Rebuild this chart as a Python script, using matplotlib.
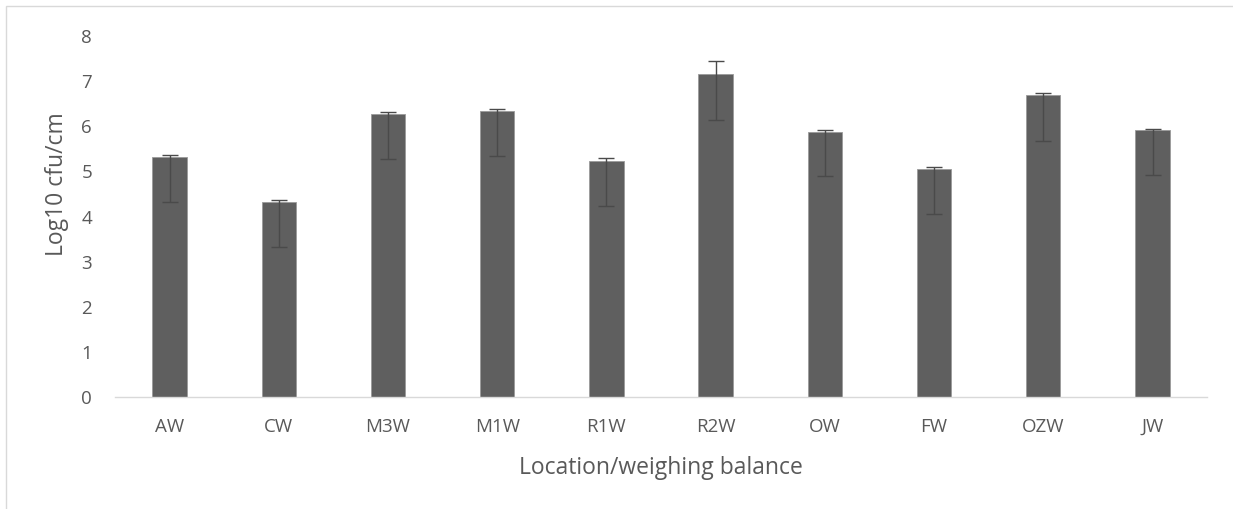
import matplotlib
matplotlib.use("Agg")
import matplotlib.pyplot as plt
import numpy as np
from matplotlib.patches import Rectangle

# data
locations = ["AW", "CW", "M3W", "M1W", "R1W", "R2W", "OW", "FW", "OZW", "JW"]
log_counts = [5.33, 4.33, 6.27, 6.33, 5.23, 7.15, 5.88, 5.05, 6.69, 5.92]
err_minus = [1.0, 1.0, 0.99, 0.99, 0.99, 1.01, 0.99, 0.99, 1.01, 1.0]
err_plus = [0.03, 0.04, 0.05, 0.06, 0.06, 0.30, 0.05, 0.06, 0.05, 0.03]
y_ticks = [0, 1, 2, 3, 4, 5, 6, 7, 8]

plt.rcParams['font.family'] = ['Open Sans', 'DejaVu Sans']
text_col = "#595959"

fig = plt.figure(figsize=(12.33, 5.09), dpi=100)
ax = fig.add_axes([0.0933, 0.22, 0.8857, 0.709])

# outer border like the excel chart area
fig.patches.append(Rectangle((6 / 1233, -0.1), 1.2, 1.1 - 6 / 509,
                             transform=fig.transFigure, fill=False,
                             edgecolor="#d9d9d9", linewidth=1.0))

x = np.arange(len(locations))
ax.bar(x, log_counts, width=0.315, color="#5f5f5f", edgecolor="#9a9a9a",
       linewidth=0.6, zorder=2)
ax.errorbar(x, log_counts, yerr=[err_minus, err_plus], fmt="none",
            ecolor="#4a4a4a", elinewidth=1.0, capsize=6, capthick=1.0, zorder=3)

ax.set_xlim(-0.5, len(locations) - 0.5)
ax.set_ylim(0, 8)
ax.set_yticks(y_ticks)
ax.set_xticks(x)
ax.set_xticklabels(locations)

for side in ["top", "right", "left"]:
    ax.spines[side].set_visible(False)
ax.spines["bottom"].set_color("#d9d9d9")
ax.spines["bottom"].set_linewidth(1.0)
ax.tick_params(axis="both", length=0, labelsize=13.5, colors=text_col)
ax.tick_params(axis="y", pad=16.5)
ax.tick_params(axis="x", pad=15)

ax.set_xlabel("Location/weighing balance", fontsize=16.5, color=text_col, va="center")
ax.xaxis.set_label_coords(0.5, -0.197)
ax.set_ylabel("Log10 cfu/cm", fontsize=16.5, color=text_col, va="center")
ax.yaxis.set_label_coords(-0.0528, 0.591)

fig.savefig("out.png", dpi=100)
